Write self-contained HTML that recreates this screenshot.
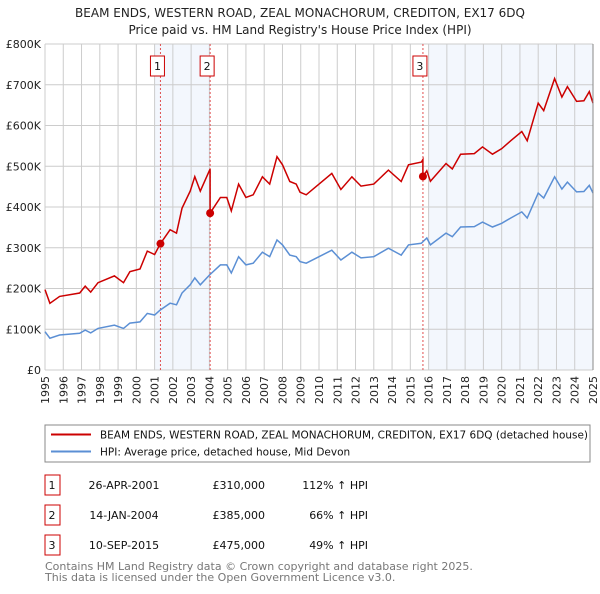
<!DOCTYPE html>
<html><head><meta charset="utf-8"><style>
body{margin:0;background:#fff;font-family:"DejaVu Sans","Liberation Sans",sans-serif;}
svg text{font-family:"DejaVu Sans","Liberation Sans",sans-serif;}
</style></head><body>
<svg id="c" width="600" height="590" viewBox="0 0 600 590" xmlns="http://www.w3.org/2000/svg">
<text x="300" y="17" text-anchor="middle" font-size="12" fill="#222">BEAM ENDS, WESTERN ROAD, ZEAL MONACHORUM, CREDITON, EX17 6DQ</text>
<text x="300" y="34" text-anchor="middle" font-size="12" fill="#222">Price paid vs. HM Land Registry's House Price Index (HPI)</text>
<g id="plot"></g>
<rect x="45" y="425" width="545" height="37" fill="#fff" stroke="#888"/>
<line x1="51" y1="434.5" x2="91" y2="434.5" stroke="#cc0000" stroke-width="2"/>
<text x="100" y="438.5" font-size="10.5" fill="#111" textLength="488" lengthAdjust="spacingAndGlyphs">BEAM ENDS, WESTERN ROAD, ZEAL MONACHORUM, CREDITON, EX17 6DQ (detached house)</text>
<line x1="51" y1="451.5" x2="91" y2="451.5" stroke="#5b8fd4" stroke-width="2"/>
<text x="100" y="455.5" font-size="10.5" fill="#111">HPI: Average price, detached house, Mid Devon</text>
<g id="tbl" font-size="11" fill="#111"></g>
<text x="45" y="570" font-size="11" fill="#777">Contains HM Land Registry data © Crown copyright and database right 2025.</text>
<text x="45" y="581" font-size="11" fill="#777">This data is licensed under the Open Government Licence v3.0.</text>
</svg>
<script>
const hpiYears=[1995.0,1995.27,1995.8,1996.9,1997.2,1997.5,1997.9,1998.8,1999.3,1999.65,2000.2,2000.6,2001.0,2001.3,2001.85,2002.2,2002.5,2002.95,2003.2,2003.5,2004.0,2004.6,2004.95,2005.2,2005.6,2006.0,2006.4,2006.9,2007.3,2007.7,2008.0,2008.4,2008.75,2008.96,2009.3,2010.7,2011.2,2011.8,2012.3,2013.0,2013.8,2014.5,2014.9,2015.6,2015.9,2016.1,2016.95,2017.3,2017.75,2018.5,2018.95,2019.5,2020.0,2020.5,2021.1,2021.4,2022.0,2022.3,2022.9,2023.3,2023.6,2024.1,2024.5,2024.8,2025.0];
const hpiValues=[94,78,86,90,98,91,102,110,102,115,118,139,135,147,164,160,189,209,226,209,233,258,258,238,278,258,262,289,278,319,307,282,278,266,262,294,270,289,275,278,299,282,307,311,324,307,336,327,351,352,363,351,360,373,388,373,434,422,474,444,461,437,438,453,434];
const saleLabels=["1","2","3"];
const saleYears=[2001.32,2004.04,2015.69];
const salePrices=[310,385,475];
const saleDates=["26-APR-2001","14-JAN-2004","10-SEP-2015"];
const salePriceText=["£310,000","£385,000","£475,000"];
const saleHpiText=["112% ↑ HPI","66% ↑ HPI","49% ↑ HPI"];
const yTicks=[0,100,200,300,400,500,600,700,800];
const yTickLabels=["£0","£100K","£200K","£300K","£400K","£500K","£600K","£700K","£800K"];
const xTicks=[1995,1996,1997,1998,1999,2000,2001,2002,2003,2004,2005,2006,2007,2008,2009,2010,2011,2012,2013,2014,2015,2016,2017,2018,2019,2020,2021,2022,2023,2024,2025];

const NS="http://www.w3.org/2000/svg";
const L=45,R=593,T=44,B=370;
const xs=y=>L+(y-1995)/30*(R-L);
const ys=v=>B-v/800*(B-T);
const plot=document.getElementById('plot');
function mk(tag,at,parent){const e=document.createElementNS(NS,tag);for(const k in at)e.setAttribute(k,at[k]);(parent||plot).appendChild(e);return e;}
function hpiAt(y){for(let i=1;i<hpiYears.length;i++){if(y<=hpiYears[i]){const t=(y-hpiYears[i-1])/(hpiYears[i]-hpiYears[i-1]);return hpiValues[i-1]+t*(hpiValues[i]-hpiValues[i-1]);}}return hpiValues[hpiValues.length-1];}

let bg=mk('rect',{x:L,y:T,width:R-L,height:B-T,fill:'#fff'});


const shades=[[2001.0,saleYears[1]],[2016.0,2025]];
shades.forEach((s,i)=>{const r=mk('rect',{x:xs(s[0]),y:T,width:xs(s[1])-xs(s[0]),height:B-T,fill:'#eef3fc',opacity:0.7});

});
xTicks.forEach((t,i)=>{const g=mk('line',{x1:xs(t),x2:xs(t),y1:T,y2:B,stroke:'#ccc','stroke-width':1});


const tx=mk('text',{x:0,y:0,'font-size':11,fill:'#222','text-anchor':'end',transform:`translate(${xs(t)+4},${B+6}) rotate(-90)`});
tx.textContent=t;

});
yTicks.forEach((t,i)=>{const g=mk('line',{x1:L,x2:R,y1:ys(t),y2:ys(t),stroke:'#ccc','stroke-width':1});


const tx=mk('text',{x:L-4,y:ys(t)+4,'font-size':11,fill:'#222','text-anchor':'end'});
tx.textContent=yTickLabels[i];

});
saleYears.forEach((s,i)=>{const l=mk('line',{x1:xs(s),x2:xs(s),y1:T,y2:B,stroke:'#e05050','stroke-width':1,'stroke-dasharray':'2,2'});


const b=mk('rect',{x:xs(s)-10,y:56,width:14,height:20,fill:'#fff',stroke:'#cc0000'});


const t=mk('text',{x:xs(s)-3,y:70,'font-size':11,'text-anchor':'middle',fill:'#111'});
t.textContent=saleLabels[i];

});
let d=hpiYears.map((y,i)=>(i?'L':'M')+xs(y).toFixed(1)+','+ys(hpiValues[i]).toFixed(1)).join('');
const hp=mk('path',{d:d,fill:'none',stroke:'#5b8fd4','stroke-width':1.5});


function factor(y){let k=0;for(let i=0;i<saleYears.length;i++)if(y>=saleYears[i])k=i;return salePrices[k]/hpiAt(saleYears[k]);}
let pts=[];
hpiYears.forEach((y,i)=>{
  saleYears.forEach((s,k)=>{if(i>0&&hpiYears[i-1]<s&&y>=s){const f0=k?salePrices[k-1]/hpiAt(saleYears[k-1]):salePrices[0]/hpiAt(saleYears[0]);pts.push([s,hpiAt(s)*f0]);pts.push([s,salePrices[k]]);}});
  pts.push([y,hpiValues[i]*factor(y)]);});
d=pts.map((p,i)=>(i?'L':'M')+xs(p[0]).toFixed(1)+','+ys(p[1]).toFixed(1)).join('');
const pp=mk('path',{d:d,fill:'none',stroke:'#cc0000','stroke-width':1.5});


saleYears.forEach((s,i)=>{const c=mk('circle',{cx:xs(s),cy:ys(salePrices[i]),r:4,fill:'#cc0000'});

});
mk('line',{x1:R,x2:R,y1:T,y2:B,stroke:'#888'});
const tbl=document.getElementById('tbl');
saleLabels.forEach((lab,i)=>{const y0=475+i*30;
const b=mk('rect',{x:45,y:y0,width:15,height:20,fill:'none',stroke:'#cc0000'},tbl);


const cells=[[52,lab,'middle'],[124,saleDates[i],'middle'],[265,salePriceText[i],'end'],[368,saleHpiText[i],'end']];
const names=['table-label','table-date','table-price','table-hpi'];
cells.forEach((c,j)=>{const t=mk('text',{x:c[0],y:y0+14,'text-anchor':c[2]},tbl);t.textContent=c[1];

});});
</script>
</body></html>
